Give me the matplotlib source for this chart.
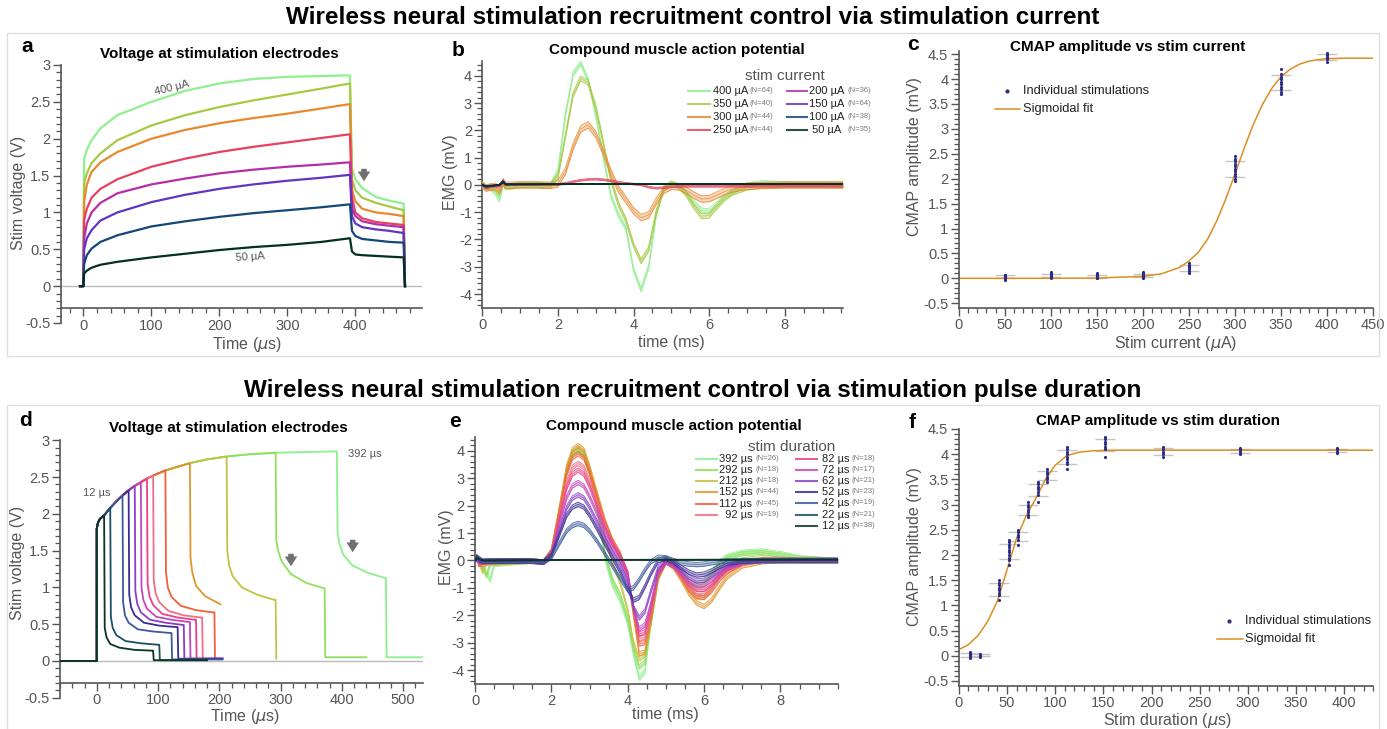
import numpy as np
import matplotlib.pyplot as plt
from matplotlib.lines import Line2D
from matplotlib.patches import Rectangle, FancyArrowPatch
from matplotlib.ticker import MultipleLocator, FormatStrFormatter

plt.rcParams['font.family'] = ['Liberation Sans', 'DejaVu Sans']

W, H = 1387, 729
GRAY = '#555555'

# ---------------- panel a: stim voltage, stim current series
cur_names = ['400 µA', '350 µA', '300 µA', '250 µA', '200 µA', '150 µA', '100 µA', ' 50 µA']
cur_n = ['(N=64)', '(N=40)', '(N=44)', '(N=44)', '(N=36)', '(N=64)', '(N=38)', '(N=35)']
cur_colors = ['#8ff08f', '#a8c843', '#e8892f', '#e8405f', '#b42fa6', '#6234c2', '#13477a', '#03301f']
volt_t = [-5, 0, 1, 5, 12, 25, 50, 100, 150, 200, 250, 300, 350, 392, 395, 400, 410, 430, 450, 471, 473]
volt_a = [
    [0, 0, 1.72, 1.85, 1.98, 2.14, 2.32, 2.5, 2.65, 2.75, 2.81, 2.84, 2.85, 2.86, 1.6, 1.45, 1.33, 1.21, 1.16, 1.12, 0],
    [0, 0, 1.4, 1.53, 1.67, 1.8, 1.98, 2.18, 2.32, 2.43, 2.52, 2.6, 2.68, 2.75, 1.45, 1.3, 1.2, 1.13, 1.08, 1.03, 0],
    [0, 0, 1.15, 1.38, 1.55, 1.68, 1.82, 2.0, 2.12, 2.21, 2.28, 2.34, 2.41, 2.47, 1.3, 1.15, 1.05, 1.0, 0.98, 0.95, 0],
    [0, 0, 0.9, 1.05, 1.2, 1.32, 1.45, 1.62, 1.73, 1.82, 1.89, 1.95, 2.01, 2.06, 1.2, 1.0, 0.92, 0.87, 0.85, 0.83, 0],
    [0, 0, 0.65, 0.85, 1.0, 1.13, 1.26, 1.38, 1.46, 1.53, 1.58, 1.62, 1.65, 1.68, 1.05, 0.95, 0.88, 0.84, 0.82, 0.8, 0],
    [0, 0, 0.5, 0.65, 0.76, 0.89, 1.0, 1.14, 1.24, 1.32, 1.38, 1.43, 1.47, 1.51, 0.95, 0.85, 0.8, 0.77, 0.75, 0.72, 0],
    [0, 0, 0.3, 0.42, 0.51, 0.6, 0.69, 0.81, 0.88, 0.94, 0.99, 1.03, 1.07, 1.11, 0.75, 0.68, 0.64, 0.62, 0.6, 0.59, 0],
    [0, 0, 0.17, 0.21, 0.25, 0.29, 0.33, 0.39, 0.44, 0.49, 0.53, 0.56, 0.6, 0.65, 0.47, 0.43, 0.42, 0.41, 0.4, 0.39, 0],
]

# ---------------- panel b: EMG, stim current series
tb = [0, 0.1, 0.2, 0.35, 0.45, 0.5, 0.55, 0.6, 0.7, 1.0, 1.4,
      1.8, 2.0, 2.2, 2.4, 2.6, 2.8, 3.0, 3.2, 3.4, 3.6, 3.8, 4.0, 4.2, 4.4, 4.6, 4.8, 5.0, 5.2,
      5.4, 5.6, 5.8, 6.0, 6.2, 6.4, 6.6, 7.0, 7.4, 8.0, 8.5, 9.0, 9.55]
emg_b = [
    [0, -0.1, -0.1, -0.3, -0.55, -0.3, 0.08, -0.1, -0.1, -0.02, 0.0,
     -0.02, 0.5, 2.6, 4.05, 4.47, 3.85, 2.56, 1.05, -0.4, -1.1, -1.6, -3.1, -3.85, -3.0, -1.1, -0.1, 0.06, -0.05,
     -0.3, -0.65, -0.92, -0.97, -0.7, -0.45, -0.27, 0.0, 0.08, 0.04, 0.0, -0.02, -0.03],
    [0, -0.1, -0.08, -0.15, -0.3, -0.1, 0.12, -0.05, -0.05, 0.0, 0.0,
     -0.02, 0.3, 1.8, 3.3, 3.9, 3.75, 2.85, 1.55, 0.2, -0.7, -1.3, -2.2, -2.8, -2.35, -1.0, -0.15, 0.05, -0.05,
     -0.35, -0.8, -1.15, -1.12, -0.8, -0.5, -0.3, -0.1, -0.03, -0.01, 0.0, 0.0, 0.0],
    [0, -0.12, -0.08, -0.05, -0.2, -0.05, 0.12, 0.0, -0.02, 0.0, 0.0,
     -0.02, 0.05, 0.5, 1.4, 2.05, 2.2, 1.85, 1.2, 0.45, -0.15, -0.55, -0.95, -1.2, -1.1, -0.6, -0.2, -0.05, -0.07,
     -0.2, -0.38, -0.52, -0.5, -0.38, -0.25, -0.15, -0.05, -0.02, 0.0, 0.0, 0.0, 0.0],
    [0, -0.12, -0.08, -0.05, -0.05, 0.0, 0.1, 0.0, 0.02, 0.02, 0.02,
     0.02, 0.02, 0.06, 0.12, 0.17, 0.2, 0.21, 0.19, 0.15, 0.1, 0.06, 0.03, 0.0, -0.08, -0.12, -0.1, -0.07, -0.06,
     -0.05, -0.05, -0.05, -0.05, -0.05, -0.05, -0.05, -0.05, -0.05, -0.05, -0.05, -0.05, -0.05],
]
band_b = [0.08, 0.09, 0.12, 0.03]
tb_flat = [0, 0.1, 0.2, 0.45, 0.55, 0.62, 0.8, 2.6, 9.55]
emg_b_flat = [
    [0, -0.1, -0.05, -0.02, 0.12, 0.0, 0.02, 0.03, 0.04],
    [0, -0.08, -0.05, 0.0, 0.15, 0.02, 0.02, 0.03, 0.03],
    [0, -0.06, -0.04, 0.0, 0.13, 0.02, 0.02, 0.03, 0.03],
    [0, -0.05, -0.03, 0.0, 0.1, 0.02, 0.02, 0.03, 0.03],
]

# ---------------- panel c: CMAP vs current
c_x = [50, 100, 150, 200, 250, 300, 350, 400]
c_vals = [
    [-0.03, 0.0, 0.01, 0.02, 0.03, 0.04, 0.05, 0.06, 0.07],
    [0.0, 0.02, 0.03, 0.04, 0.05, 0.06, 0.08, 0.1, 0.13],
    [0.0, 0.01, 0.02, 0.03, 0.04, 0.05, 0.06, 0.08, 0.1],
    [0.0, 0.02, 0.03, 0.04, 0.05, 0.06, 0.08, 0.1, 0.12],
    [0.1, 0.15, 0.18, 0.2, 0.22, 0.24, 0.26, 0.3],
    [1.95, 2.0, 2.05, 2.1, 2.15, 2.2, 2.25, 2.3, 2.35, 2.4, 2.45],
    [3.7, 3.75, 3.8, 3.85, 3.9, 3.95, 4.0, 4.05, 4.1, 4.2],
    [4.35, 4.4, 4.42, 4.45, 4.48, 4.5, 4.52],
]
c_fit_x = [0, 100, 150, 200, 220, 240, 250, 260, 270, 280, 290, 300, 310, 320, 330, 340, 350, 360, 370, 380, 390, 400, 420, 450]
c_fit_y = [0.0, 0.0, 0.005, 0.04, 0.09, 0.22, 0.35, 0.52, 0.78, 1.15, 1.6, 2.1, 2.62, 3.1, 3.5, 3.82, 4.05, 4.2, 4.3, 4.36, 4.39, 4.41, 4.42, 4.42]

# ---------------- panel d: stim voltage, stim duration series
durations = [392, 292, 212, 152, 112, 92, 82, 72, 62, 52, 42, 22, 12]
dur_n = ['(N=26)', '(N=18)', '(N=18)', '(N=44)', '(N=45)', '(N=19)', '(N=18)',
         '(N=17)', '(N=21)', '(N=23)', '(N=19)', '(N=21)', '(N=38)']
dur_colors = ['#8cf08c', '#8fe05c', '#c2c245', '#e0952c', '#f0603c', '#f06f86', '#ea3f8a',
              '#c248b8', '#8c3ec8', '#3a2d96', '#3a5a9a', '#1b5060', '#0d3526']
env_t = [0, 2, 5, 12, 22, 32, 42, 52, 62, 72, 82, 92, 112, 132, 152, 180, 212, 250, 292, 340, 392]
env_v = [1.8, 1.88, 1.93, 1.98, 2.08, 2.17, 2.25, 2.32, 2.38, 2.43, 2.48, 2.52, 2.59, 2.64, 2.69, 2.74, 2.78, 2.81, 2.83, 2.84, 2.85]
decay_dt = [1, 4, 10, 25, 50, 78]
decay_v = [
    [1.75, 1.6, 1.45, 1.3, 1.2, 1.13],
    [1.65, 1.5, 1.35, 1.18, 1.06, 0.99],
    [1.5, 1.3, 1.15, 1.0, 0.9, 0.83],
    [1.4, 1.2, 1.02, 0.88, 0.77, 0.74],
    [1.2, 1.0, 0.87, 0.75, 0.69, 0.66],
    [1.1, 0.92, 0.8, 0.68, 0.62, 0.59],
    [1.05, 0.88, 0.76, 0.64, 0.59, 0.56],
    [1.0, 0.83, 0.71, 0.6, 0.56, 0.53],
    [0.95, 0.78, 0.66, 0.56, 0.52, 0.49],
    [0.9, 0.73, 0.62, 0.52, 0.48, 0.46],
    [0.8, 0.62, 0.52, 0.43, 0.4, 0.38],
    [0.6, 0.45, 0.35, 0.27, 0.24, 0.22],
    [0.45, 0.32, 0.23, 0.18, 0.15, 0.14],
]
rec_end = [532, 440, 293, 204, 205, 205, 205, 205, 205, 205, 205, 180, 180]
base_after = [0.05, 0.05, 0.03, 0.03, 0.03, 0.03, 0.03, 0.03, 0.03, 0.03, 0.02, 0.01, 0.01]

# ---------------- panel e: EMG, stim duration series
te = [0, 0.05, 0.1, 0.2, 0.3, 0.4, 0.5, 0.7, 1.0, 1.4,
      1.8, 2.0, 2.2, 2.4, 2.55, 2.7, 2.85, 3.0, 3.2, 3.4, 3.6, 3.8, 4.0, 4.15, 4.3, 4.45,
      4.6, 4.8, 5.0, 5.2, 5.4, 5.6, 5.8, 6.0, 6.2, 6.4, 6.6, 7.0, 7.5, 8.0, 8.5, 9.5]
emg_e = [
    [0, 0.12, 0.0, -0.25, -0.45, -0.72, -0.15, -0.12, -0.08, -0.04,
     -0.05, 0.35, 1.75, 3.25, 3.85, 4.0, 3.8, 3.2, 1.9, 0.1, -0.9, -1.45, -2.3, -3.4, -4.3, -4.05,
     -2.4, -0.7, 0.0, -0.1, -0.4, -0.7, -0.85, -0.75, -0.4, -0.05, 0.15, 0.3, 0.35, 0.25, 0.1, 0.0],
    [0, 0.12, 0.0, -0.28, -0.55, -0.12, -0.1, -0.08, -0.06, -0.03,
     -0.05, 0.35, 1.8, 3.3, 3.9, 4.05, 3.85, 3.25, 2.0, 0.3, -0.7, -1.25, -2.1, -3.2, -3.9, -3.7,
     -2.3, -0.6, 0.0, -0.12, -0.5, -0.85, -1.0, -0.9, -0.5, -0.15, 0.1, 0.25, 0.3, 0.2, 0.08, 0.0],
    [0, 0.12, -0.05, -0.4, -0.1, -0.08, -0.07, -0.06, -0.05, -0.03,
     -0.05, 0.35, 1.8, 3.35, 3.95, 4.1, 3.95, 3.35, 2.2, 0.9, -0.1, -0.8, -1.8, -3.0, -3.6, -3.45,
     -2.3, -0.65, 0.0, -0.2, -0.6, -1.05, -1.35, -1.35, -1.0, -0.55, -0.25, 0.02, 0.1, 0.05, 0.0, 0.0],
    [0, 0.12, -0.12, -0.15, -0.08, -0.07, -0.06, -0.05, -0.04, -0.03,
     -0.05, 0.35, 1.84, 3.43, 4.04, 4.2, 4.04, 3.43, 2.45, 1.48, 0.75, 0.26, -0.5, -2.0, -3.4, -3.35,
     -2.3, -0.6, -0.05, -0.25, -0.7, -1.2, -1.55, -1.68, -1.45, -1.0, -0.6, -0.2, -0.05, 0.0, 0.0, 0.0],
    [0, 0.12, -0.15, -0.07, -0.06, -0.05, -0.05, -0.04, -0.03, -0.02,
     -0.05, 0.3, 1.7, 3.15, 3.75, 3.9, 3.75, 3.2, 2.3, 1.4, 0.7, 0.2, -0.5, -1.9, -3.05, -3.0,
     -2.1, -0.55, -0.05, -0.2, -0.6, -1.05, -1.3, -1.35, -1.1, -0.7, -0.4, -0.1, 0.0, 0.0, 0.0, 0.0],
    [0, 0.12, -0.08, -0.05, -0.05, -0.04, -0.04, -0.03, -0.02, -0.02,
     -0.05, 0.28, 1.55, 2.85, 3.4, 3.55, 3.4, 2.9, 2.1, 1.3, 0.65, 0.2, -0.45, -1.75, -2.85, -2.8,
     -1.95, -0.5, -0.05, -0.2, -0.55, -0.95, -1.2, -1.2, -0.95, -0.6, -0.33, -0.08, 0.0, 0.0, 0.0, 0.0],
    [0, 0.12, -0.06, -0.05, -0.04, -0.04, -0.03, -0.03, -0.02, -0.02,
     -0.05, 0.27, 1.45, 2.65, 3.15, 3.3, 3.15, 2.7, 1.95, 1.2, 0.6, 0.15, -0.45, -1.7, -2.7, -2.6,
     -1.8, -0.45, -0.05, -0.2, -0.5, -0.85, -1.05, -1.05, -0.85, -0.55, -0.3, -0.07, 0.0, 0.0, 0.0, 0.0],
    [0, 0.12, -0.03, -0.04, -0.04, -0.03, -0.03, -0.02, -0.02, -0.02,
     -0.05, 0.23, 1.25, 2.3, 2.72, 2.85, 2.72, 2.33, 1.7, 1.0, 0.45, 0.05, -0.6, -1.7, -2.5, -2.35,
     -1.6, -0.4, -0.03, -0.15, -0.45, -0.75, -0.9, -0.88, -0.7, -0.45, -0.25, -0.05, 0.0, 0.0, 0.0, 0.0],
    [0, 0.12, 0.0, -0.04, -0.03, -0.03, -0.03, -0.02, -0.02, -0.02,
     -0.05, 0.2, 1.05, 1.93, 2.28, 2.4, 2.28, 1.95, 1.4, 0.8, 0.3, -0.15, -0.8, -1.7, -2.1, -1.85,
     -1.15, -0.25, 0.03, -0.1, -0.35, -0.6, -0.75, -0.72, -0.55, -0.35, -0.18, -0.03, 0.0, 0.0, 0.0, 0.0],
    [0, 0.12, 0.05, -0.03, -0.03, -0.02, -0.02, -0.02, -0.02, -0.02,
     -0.05, 0.17, 0.9, 1.65, 1.95, 2.05, 1.95, 1.65, 1.15, 0.6, 0.1, -0.4, -1.05, -1.45, -1.35, -0.95,
     -0.5, 0.0, 0.08, -0.05, -0.25, -0.42, -0.53, -0.5, -0.38, -0.22, -0.1, -0.02, 0.0, 0.0, 0.0, 0.0],
    [0, 0.12, 0.08, -0.02, -0.02, -0.02, -0.02, -0.02, -0.02, -0.02,
     -0.05, 0.11, 0.6, 1.08, 1.28, 1.35, 1.28, 1.08, 0.7, 0.25, -0.2, -0.65, -1.08, -1.0, -0.7, -0.35,
     -0.05, 0.12, 0.1, 0.0, -0.08, -0.13, -0.15, -0.13, -0.08, -0.04, -0.02, 0.0, 0.0, 0.0, 0.0, 0.0],
]
te_flat = [0, 0.05, 0.1, 0.2, 2.3, 9.5]
emg_e_flat = [
    [0, 0.12, 0.06, 0.0, 0.02, 0.03],
    [0, 0.1, 0.05, 0.0, 0.02, 0.03],
]

# ---------------- panel f: CMAP vs duration
f_x = [12, 22, 42, 52, 62, 72, 82, 92, 112, 152, 212, 292, 392]
f_vals = [
    [-0.05, 0.0, 0.02, 0.05, 0.08, 0.03],
    [-0.02, 0.0, 0.02, 0.03],
    [1.1, 1.2, 1.25, 1.3, 1.35, 1.4, 1.45, 1.5],
    [1.8, 1.9, 1.95, 2.0, 2.05, 2.1, 2.15, 2.2, 2.25, 2.3],
    [2.2, 2.3, 2.35, 2.4, 2.45, 2.5],
    [2.75, 2.8, 2.85, 2.9, 2.95, 3.0, 3.05],
    [3.05, 3.2, 3.25, 3.3, 3.35, 3.4, 3.45],
    [3.45, 3.5, 3.55, 3.6, 3.65, 3.7],
    [3.7, 3.8, 3.85, 3.9, 3.95, 4.0, 4.05, 4.1, 4.15],
    [3.95, 4.1, 4.15, 4.2, 4.25, 4.3, 4.35],
    [3.95, 4.0, 4.05, 4.1, 4.15],
    [4.0, 4.05, 4.08, 4.1, 4.12],
    [4.03, 4.05, 4.08, 4.1, 4.12],
]
f_fit_x = [0, 10, 20, 30, 40, 50, 60, 70, 80, 90, 100, 112, 125, 140, 160, 200, 300, 430]
f_fit_y = [0.12, 0.22, 0.4, 0.68, 1.08, 1.7, 2.33, 2.78, 3.12, 3.5, 3.78, 3.97, 4.04, 4.07, 4.08, 4.08, 4.08, 4.08]

FIT_COLOR = '#dd8d22'
DOT_COLOR = '#2b2b8c'
TICK_FS = 10.5
LAB_FS = 11.5
TITLE_FS = 11

fig = plt.figure(figsize=(W / 100, H / 100), dpi=100)


def fx(x):
    return x / W


def fy(y):
    return 1 - y / H


def axes_at(l, t, r, b):
    return fig.add_axes([l / W, 1 - b / H, (r - l) / W, (b - t) / H])


def style(ax, xmaj, xmin, ymaj, ymin):
    for s in ['top', 'right']:
        ax.spines[s].set_visible(False)
    for s in ['left', 'bottom']:
        ax.spines[s].set_color('#555555')
        ax.spines[s].set_linewidth(1.2)
    ax.xaxis.set_major_locator(MultipleLocator(xmaj))
    ax.xaxis.set_minor_locator(MultipleLocator(xmin))
    ax.yaxis.set_major_locator(MultipleLocator(ymaj))
    ax.yaxis.set_minor_locator(MultipleLocator(ymin))
    ax.xaxis.set_major_formatter(FormatStrFormatter('%g'))
    ax.yaxis.set_major_formatter(FormatStrFormatter('%g'))
    ax.tick_params(which='major', length=6, width=1.0, color='#555555',
                   labelsize=TICK_FS, labelcolor=GRAY, pad=1.5)
    ax.tick_params(which='minor', length=3.5, width=0.9, color='#555555')


def ftext(x, y, s, **kw):
    fig.text(fx(x), fy(y), s, **kw)


def arrow_down(x, y0, y1):
    fig.add_artist(FancyArrowPatch(
        (fx(x), fy(y0)), (fx(x), fy(y1)), transform=fig.transFigure,
        arrowstyle='simple,head_width=0.9,head_length=0.7,tail_width=0.4',
        mutation_scale=10, color='#707070', lw=0))


def leg_line(x0, x1, y, color, lw=1.5, alpha=0.85):
    fig.add_artist(Line2D([fx(x0), fx(x1)], [fy(y), fy(y)], transform=fig.transFigure,
                          color=color, lw=lw, alpha=alpha))


def band(ax, t, v, w, color, z):
    v = np.asarray(v)
    ax.fill_between(t, v - w, v + w, color=color, alpha=0.35, lw=0, zorder=z)
    ax.plot(t, v - w, color=color, lw=0.6, alpha=0.9, zorder=z)
    ax.plot(t, v + w, color=color, lw=0.6, alpha=0.9, zorder=z)
    ax.plot(t, v, color=color, lw=0.6, alpha=0.7, zorder=z)


def panel_text(letter, lxy, title, txy, ylab, yxy, xlab, xxy):
    ftext(lxy[0], lxy[1], letter, ha='center', va='center', fontsize=15, fontweight='bold')
    ftext(txy[0], txy[1], title, ha='center', va='center', fontsize=TITLE_FS, fontweight='bold')
    ftext(yxy[0], yxy[1], ylab, ha='center', va='center', rotation=90, fontsize=LAB_FS, color=GRAY)
    ftext(xxy[0], xxy[1], xlab, ha='center', va='center', fontsize=LAB_FS, color=GRAY)


# row frames
fig.add_artist(Rectangle((fx(7), fy(356)), (1379 - 7) / W, (356 - 33) / H, transform=fig.transFigure,
                         fill=False, edgecolor='#dedede', lw=1))
fig.add_artist(Rectangle((fx(7), fy(740)), (1379 - 7) / W, (740 - 405) / H, transform=fig.transFigure,
                         fill=False, edgecolor='#dedede', lw=1))

ftext(693, 17, 'Wireless neural stimulation recruitment control via stimulation current',
      ha='center', va='center', fontsize=17.5, fontweight='bold')
ftext(693, 390, 'Wireless neural stimulation recruitment control via stimulation pulse duration',
      ha='center', va='center', fontsize=17.5, fontweight='bold')

# ---------------- a
ax = axes_at(61, 65, 422, 323)
ax.axhline(0, color='#bbbbbb', lw=1, zorder=0)
for v, c in zip(volt_a, cur_colors):
    ax.plot(volt_t, v, color=c, lw=1.6)
ax.set_xlim(-33, 498)
ax.set_ylim(-0.5, 3.0)
style(ax, 100, 20, 0.5, 0.1)
ax.spines['bottom'].set_position(('data', -0.3))
ftext(172, 88, '400 µA', ha='center', va='center', fontsize=8, color=GRAY, rotation=14)
ftext(250, 257, '50 µA', ha='center', va='center', fontsize=8, color=GRAY, rotation=4)
arrow_down(364, 166, 184)
panel_text('a', (27, 47), 'Voltage at stimulation electrodes', (219, 54),
           'Stim voltage (V)', (19, 193), r'Time ($\mu$s)', (246.7, 344))

# ---------------- b
ax = axes_at(482.3, 60.7, 843.3, 307.7)
for i, (v, w) in enumerate(zip(emg_b, band_b)):
    band(ax, tb, v, w, cur_colors[i], 2 + i)
for i, v in enumerate(emg_b_flat):
    ax.plot(tb_flat, v, color=cur_colors[4 + i], lw=1.3, zorder=6 + i)
ax.set_xlim(0, 9.55)
ax.set_ylim(-4.5, 4.55)
style(ax, 2, 0.5, 1, 0.2)
panel_text('b', (458, 50), 'Compound muscle action potential', (677, 50),
           'EMG (mV)', (451, 172), 'time (ms)', (671, 342))
ftext(785, 76, 'stim current', ha='center', va='center', fontsize=11, color=GRAY)
rows_b = [91, 104, 117, 130]
for i in range(8):
    col = i // 4
    y = rows_b[i % 4]
    lx0, lx1, tx, nx = [(688, 710, 712.7, 750), (786.7, 806.7, 809.3, 847)][col]
    leg_line(lx0, lx1, y, cur_colors[i])
    ftext(tx, y, cur_names[i], ha='left', va='center', fontsize=8, color='#222222')
    ftext(nx, y - 0.5, cur_n[i], ha='left', va='center', fontsize=5.5, color='#777777')

# ---------------- c
ax = axes_at(958.7, 50.7, 1373.3, 307.7)
c_mean = [np.mean(v) for v in c_vals]
c_std = [np.std(v) for v in c_vals]
ax.errorbar(c_x, c_mean, yerr=c_std, fmt='none', ecolor='#c4c4c4', elinewidth=1, capsize=7, capthick=1, zorder=1)
for x, v in zip(c_x, c_vals):
    ax.plot([x] * len(v), v, '.', color=DOT_COLOR, ms=2.5, zorder=3)
ax.plot(c_fit_x, c_fit_y, color=FIT_COLOR, lw=1.1, zorder=2)
ax.set_xlim(0, 450)
ax.set_ylim(-0.59, 4.57)
style(ax, 50, 10, 0.5, 0.1)
panel_text('c', (913, 45), 'CMAP amplitude vs stim current', (1128, 47),
           'CMAP amplitude (mV)', (914, 157), r'Stim current ($\mu$A)', (1176, 343))
fig.add_artist(Line2D([fx(1006.7)], [fy(90.7)], transform=fig.transFigure, marker='.', ms=4, color=DOT_COLOR, lw=0))
ftext(1022.7, 90.7, 'Individual stimulations', ha='left', va='center', fontsize=9.3, color='#222222')
leg_line(995, 1020, 109.3, FIT_COLOR, lw=1.1, alpha=1)
ftext(1022.7, 109.3, 'Sigmoidal fit', ha='left', va='center', fontsize=9.3, color='#222222')

# ---------------- d
ax = axes_at(60, 440.3, 422.7, 697.7)
ax.axhline(0, color='#bbbbbb', lw=1, zorder=0)
for i, d in enumerate(durations):
    t = [-60, 0] + [et for et in env_t if et <= d]
    v = [0, 0] + [ev for et, ev in zip(env_t, env_v) if et <= d]
    for dt, dv in zip(decay_dt, decay_v[i]):
        if d + dt <= rec_end[i]:
            t.append(d + dt)
            v.append(dv)
    if d + 80 <= rec_end[i]:
        t += [d + 80, d + 81, rec_end[i]]
        v += [v[-1], base_after[i], base_after[i]]
    ax.plot(t, v, color=dur_colors[i], lw=1.3, zorder=2 + i)
ax.set_xlim(-60, 532)
ax.set_ylim(-0.5, 3.0)
style(ax, 100, 20, 0.5, 0.1)
ax.spines['bottom'].set_position(('data', -0.3))
ftext(96.7, 493, '12 µs', ha='center', va='center', fontsize=8, color=GRAY)
ftext(365, 454, '392 µs', ha='center', va='center', fontsize=8, color=GRAY)
arrow_down(291, 551, 569)
arrow_down(352.7, 537, 555)
panel_text('d', (25, 421), 'Voltage at stimulation electrodes', (228, 428),
           'Stim voltage (V)', (18, 563), r'Time ($\mu$s)', (245, 717))

# ---------------- e
ax = axes_at(475, 436.7, 837.7, 684)
for i, v in enumerate(emg_e):
    band(ax, te, v, 0.08, dur_colors[i], 2 + i)
for i, v in enumerate(emg_e_flat):
    ax.plot(te_flat, v, color=dur_colors[11 + i], lw=1.3, zorder=20 + i)
ax.set_xlim(0, 9.5)
ax.set_ylim(-4.51, 4.52)
style(ax, 2, 0.5, 1, 0.2)
panel_text('e', (455, 422), 'Compound muscle action potential', (674, 426),
           'EMG (mV)', (447, 547), 'time (ms)', (665, 715))
ftext(792, 447, 'stim duration', ha='center', va='center', fontsize=11, color=GRAY)
rows_e1 = [459, 470, 481, 492.3, 503.7, 515]
rows_e2 = [459, 469.7, 480.7, 492, 503.3, 514.7, 526]
for i in range(13):
    if i < 6:
        y = rows_e1[i]
        lx0, lx1, tx, nx = 696, 716.7, 718.7, 755
    else:
        y = rows_e2[i - 6]
        lx0, lx1, tx, nx = 796, 816.7, 821.7, 851.5
    leg_line(lx0, lx1, y, dur_colors[i])
    name = '%d µs' % durations[i]
    if durations[i] < 100 and i < 6:
        name = '  ' + name
    ftext(tx, y, name, ha='left', va='center', fontsize=8, color='#222222')
    ftext(nx, y - 0.5, dur_n[i], ha='left', va='center', fontsize=5.5, color='#777777')

# ---------------- f
ax = axes_at(958.7, 429, 1373.3, 685.7)
f_mean = [np.mean(v) for v in f_vals]
f_std = [np.std(v) for v in f_vals]
ax.errorbar(f_x, f_mean, yerr=f_std, fmt='none', ecolor='#c4c4c4', elinewidth=1, capsize=7, capthick=1, zorder=1)
for x, v in zip(f_x, f_vals):
    ax.plot([x] * len(v), v, '.', color=DOT_COLOR, ms=2.5, zorder=3)
ax.plot(f_fit_x, f_fit_y, color=FIT_COLOR, lw=1.1, zorder=2)
ax.set_xlim(0, 430)
ax.set_ylim(-0.594, 4.5)
style(ax, 50, 10, 0.5, 0.1)
panel_text('f', (912, 423), 'CMAP amplitude vs stim duration', (1158, 421),
           'CMAP amplitude (mV)', (914, 547), r'Stim duration ($\mu$s)', (1167, 721))
fig.add_artist(Line2D([fx(1229.3)], [fy(620.7)], transform=fig.transFigure, marker='.', ms=4, color=DOT_COLOR, lw=0))
ftext(1245, 620.7, 'Individual stimulations', ha='left', va='center', fontsize=9.3, color='#222222')
leg_line(1217, 1242.7, 639.3, FIT_COLOR, lw=1.1, alpha=1)
ftext(1245, 639.3, 'Sigmoidal fit', ha='left', va='center', fontsize=9.3, color='#222222')

fig.savefig('out.png', dpi=100, facecolor='white')
